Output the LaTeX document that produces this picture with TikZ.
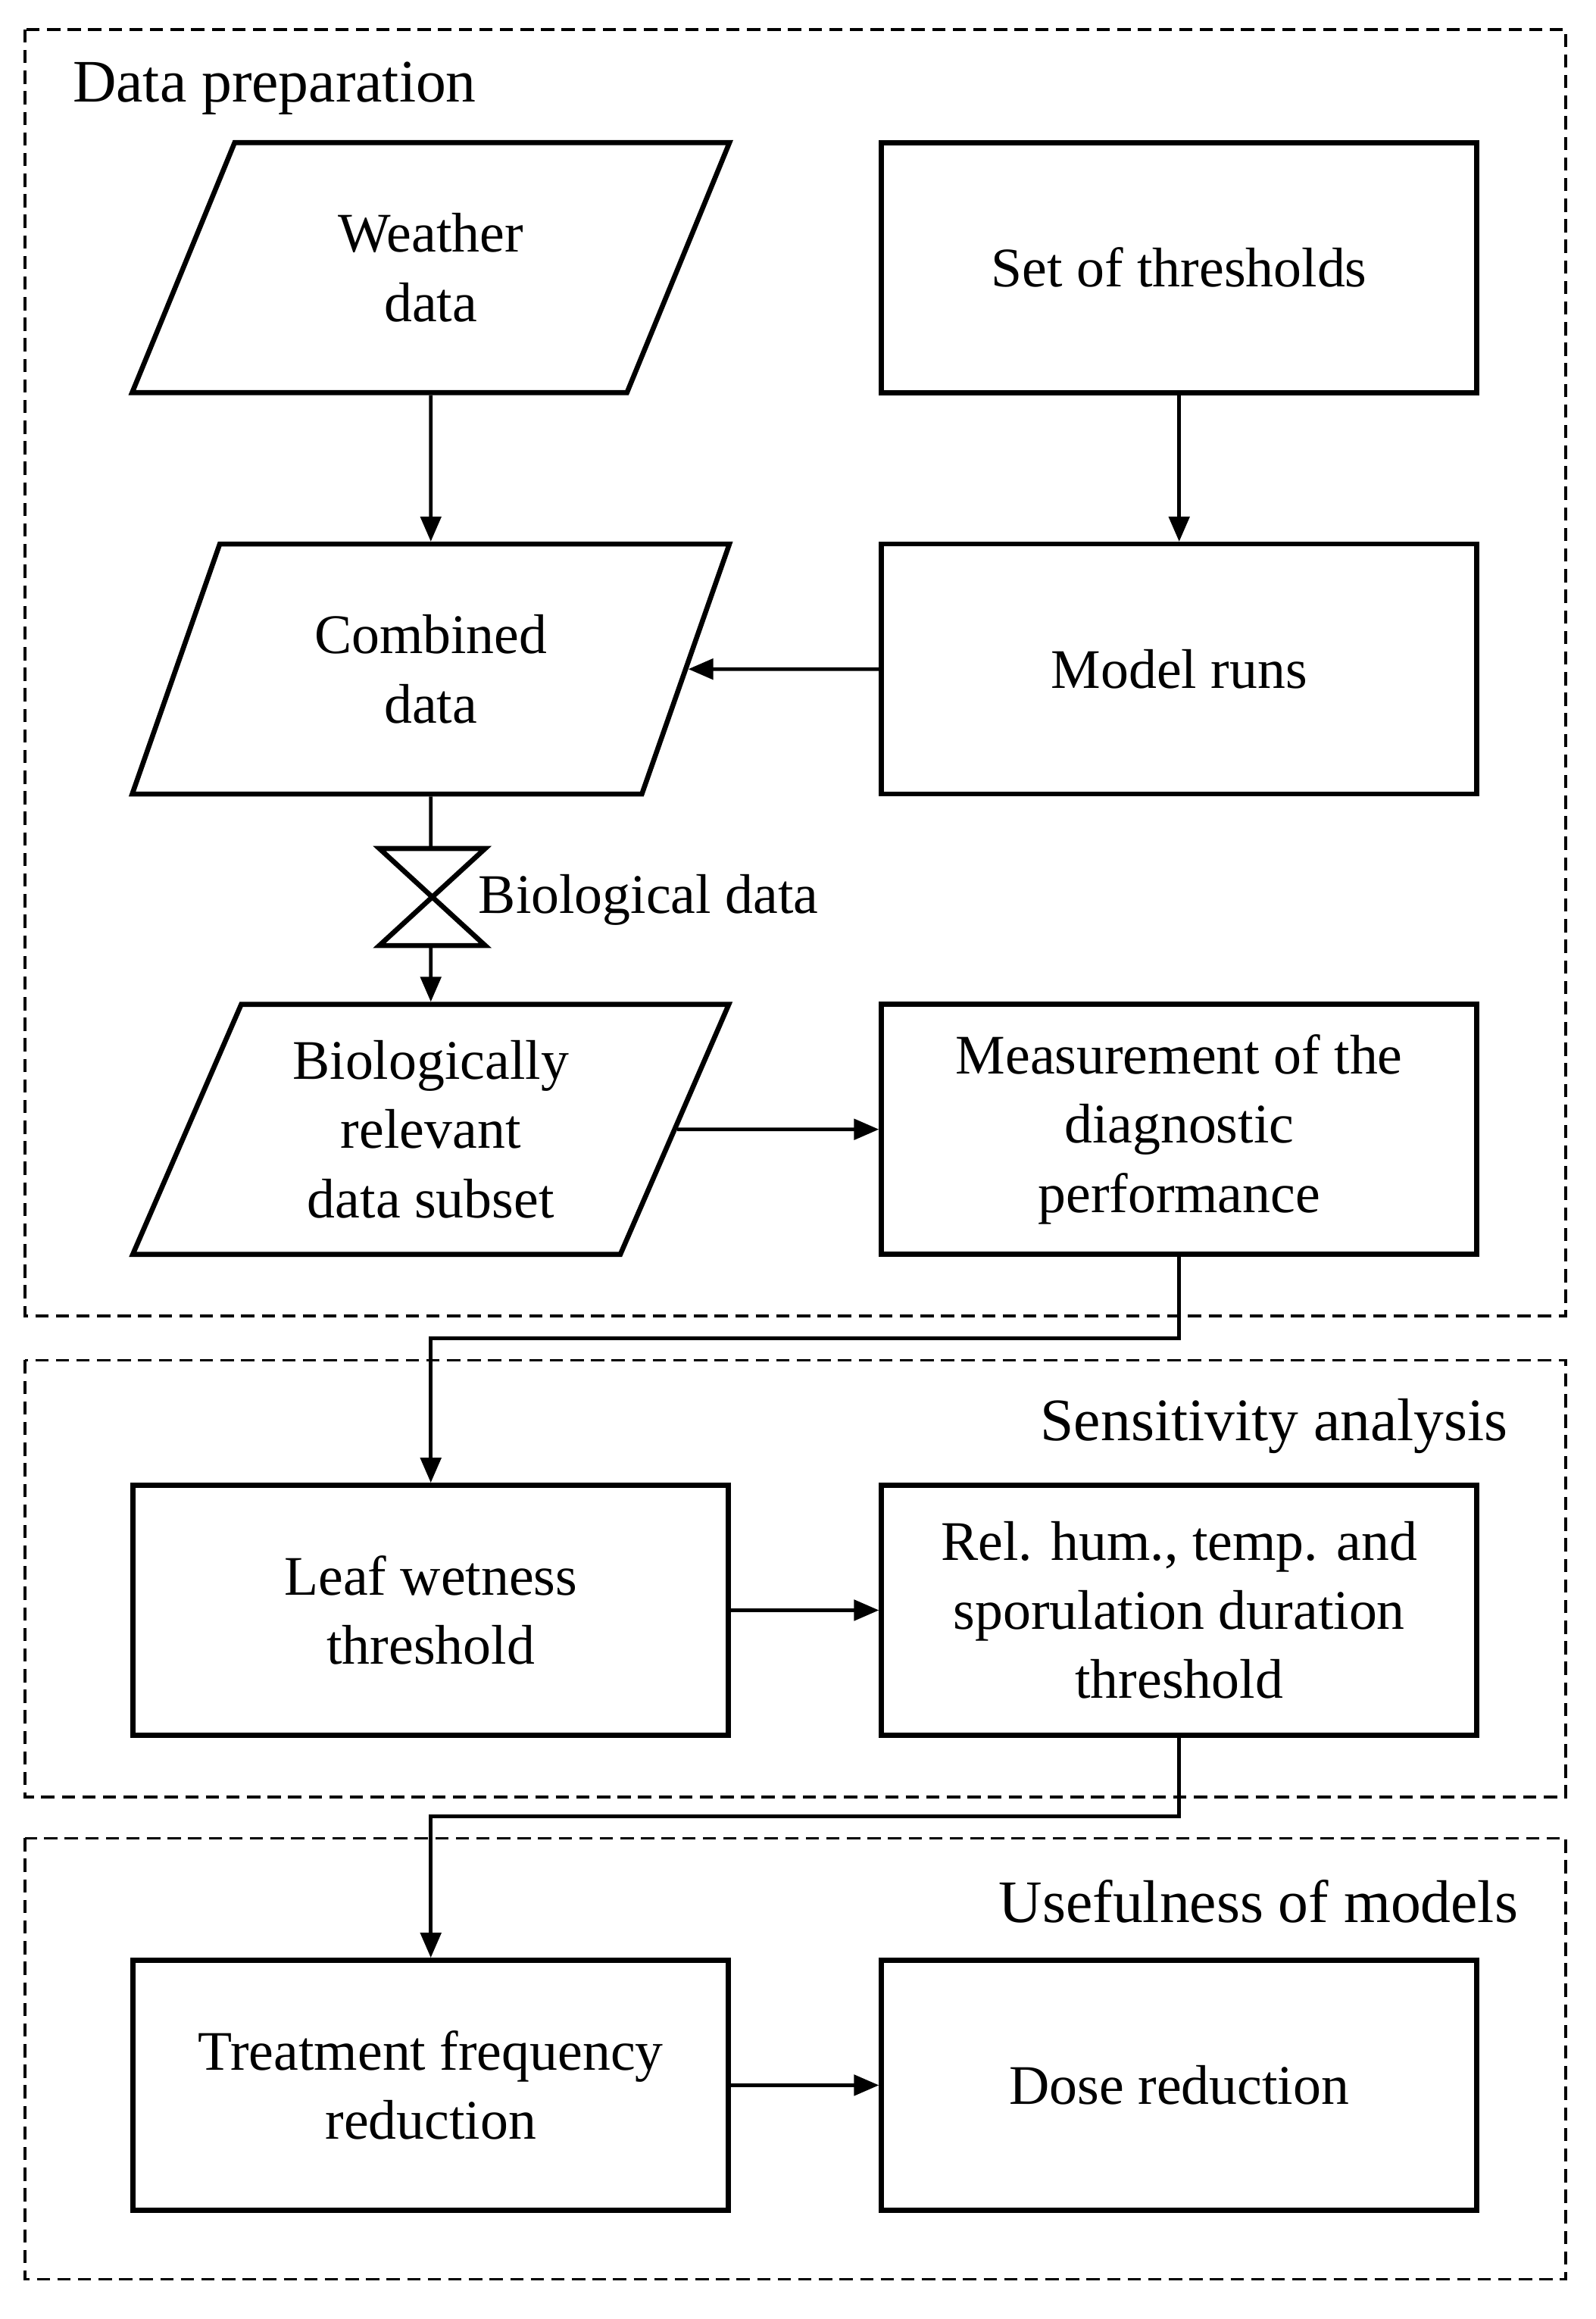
\documentclass[tikz,border=0pt]{standalone}
\usepackage{fontspec}
\setmainfont{Liberation Serif}
\usetikzlibrary{shapes.geometric,arrows.meta}
\begin{document}
\begin{tikzpicture}[x=1pt,y=-1pt,
  every node/.style={font=\fontsize{38}{47}\selectfont, align=center},
  box/.style={draw, line width=3.4pt, minimum width=405pt, minimum height=170pt, inner sep=0pt},
  para/.style={draw, line width=3.4pt, trapezium, trapezium left angle=66, trapezium right angle=114, trapezium stretches=true, minimum width=407pt, minimum height=170pt, inner sep=0pt},
  grp/.style={draw, dashed, line width=1.8pt, dash pattern=on 9pt off 5pt},
  arr/.style={line width=2.4pt, -{Triangle[length=17pt,width=14pt]}},
  lbl/.style={font=\fontsize{41}{45}\selectfont}]
\useasboundingbox (0,0) rectangle (1085,1577);
\draw[grp] (17,20) rectangle (1065,895);
\draw[grp] (17,925) rectangle (1065,1222);
\draw[grp] (17,1250) rectangle (1065,1550);
\node[lbl, anchor=west] (t1) at (46,60) {Data preparation};
\node[lbl, anchor=east] (t2) at (1029,970) {Sensitivity\ analysis};
\node[lbl, anchor=east] (t3) at (1036,1293) {Usefulness of models};

\node[para] (wd) at (293,182) {Weather\\data};
\node[box] (st) at (802,182) {Set of thresholds};
\node[para] (cd) at (293,455) {Combined\\data};
\node[box] (mr) at (802,455) {Model runs};
\node[para] (br) at (293,768) {Biologically\\relevant\\data subset};
\node[box] (mp) at (802,768) {Measurement of the\\diagnostic\\performance};
\node[box] (lw) at (293,1095) {Leaf wetness\\threshold};
\node[box] (rh) at (802,1095) {Rel. hum., temp. and\\sporulation duration\\threshold};
\node[box] (tf) at (293,1418) {Treatment frequency\\reduction};
\node[box] (dr) at (802,1418) {Dose reduction};

\coordinate (ct) at (293,577);
\coordinate (cb) at (293,643);
\draw[line width=3.4pt, line join=miter] (258,577) -- (330,577) -- (258,643) -- (330,643) -- cycle;
\node[anchor=west] (bd) at (322,612) {Biological\ data};

\draw[arr] (wd.south) -- (cd.north);
\draw[arr] (st.south) -- (mr.north);
\draw[arr] (mr.west) -- (cd.east);
\draw[line width=2.4pt] (cd.south) -- (ct);
\draw[arr] (cb) -- (br.north);
\draw[arr] (br.east) -- (mp.west);
\draw[arr] (mp.south) -- (802,910) -- (293,910) -- (lw.north);
\draw[arr] (lw.east) -- (rh.west);
\draw[arr] (rh.south) -- (802,1235) -- (293,1235) -- (tf.north);
\draw[arr] (tf.east) -- (dr.west);
\end{tikzpicture}
\end{document}
